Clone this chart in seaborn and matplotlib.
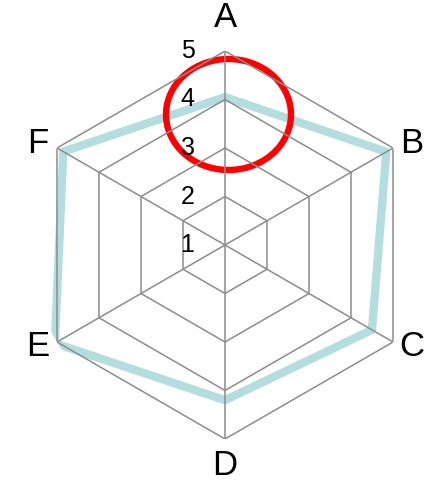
#radar chart of six categories with a highlighted point at A

import numpy as np
import matplotlib
matplotlib.use("Agg")
import matplotlib.pyplot as plt
import seaborn as sns

# data
categories = ['A', 'B', 'C', 'D', 'E', 'F']
values = [4.05, 4.84, 4.5, 4.2, 5.05, 4.85]
levels = [1, 2, 3, 4, 5]

# highlight around the top of the chart
highlight_theta = 0.02
highlight_r = 3.7

sns.set_style("white")
plt.rcParams['font.family'] = ['Liberation Sans', 'DejaVu Sans']

fig = plt.figure(figsize=(4.32, 4.82), dpi=100)
ax = fig.add_axes([31/432, 43/482, 388/432, 388/482], projection='polar')
ax.set_theta_zero_location('N')
ax.set_theta_direction(-1)
ax.set_ylim(levels[0], levels[-1])
ax.grid(False)
ax.spines['polar'].set_visible(False)
ax.set_xticks([])
ax.set_yticks([])
ax.patch.set_alpha(0)

n = len(categories)
theta = np.linspace(0, 2*np.pi, n, endpoint=False)
theta_closed = np.append(theta, theta[0] + 2*np.pi)

# the series
sns.lineplot(x=theta_closed, y=np.append(values, values[0]), ax=ax, sort=False,
             color='#b4dde0', linewidth=6, zorder=2)

# red circle highlight
t = np.linspace(0, 2*np.pi, 100)
ell = np.column_stack([np.cos(t), 0.888*np.sin(t)])
ax.plot([highlight_theta], [highlight_r], marker=ell, markersize=90,
        markerfacecolor='none', markeredgecolor='#ff0000', markeredgewidth=4.6,
        linestyle='none', zorder=3)

# hexagon grid, on top of the lines
for lv in levels[1:]:
    ax.plot(theta_closed, [lv]*(n+1), color='#8c8c8c', linewidth=1.1, zorder=4)
for th in theta:
    ax.plot([th, th], [levels[0], levels[-1]], color='#8c8c8c', linewidth=1.1, zorder=4)

# level numbers left of the A spoke
for lv in levels:
    ax.annotate(str(lv), xy=(0, lv), xytext=(-27, 0), textcoords='offset points',
                ha='center', va='center', fontsize=18, color='black', zorder=5,
                annotation_clip=False)

# category names
label_r = [5.7, 5.39, 5.39, 5.55, 5.39, 5.39]
label_th = [0, 61.4, 118.6, 180, 241.4, 298.6]
for name, th, r in zip(categories, label_th, label_r):
    ax.text(np.deg2rad(th), r, name, ha='center', va='center', fontsize=25,
            color='black', clip_on=False)

ax.set_xlabel('')
ax.set_ylabel('')
fig.savefig('out.png', dpi=100)
